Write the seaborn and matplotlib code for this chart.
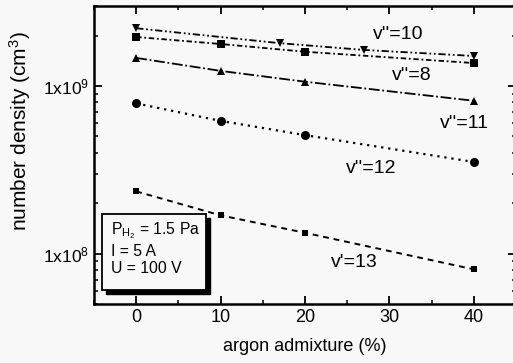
import numpy as np
import pandas as pd
import matplotlib
matplotlib.use("Agg")
import matplotlib.pyplot as plt
from matplotlib.patches import Rectangle
from matplotlib.ticker import FixedLocator, NullFormatter, FixedFormatter, MultipleLocator
import seaborn as sns

# argon admixture (%) and number densities (cm^-3) per vibrational level
x_main = [0, 10, 20, 40]
x_v10 = [0, 17, 27, 40]
n_v10 = [2.21e9, 1.80e9, 1.64e9, 1.51e9]
n_v8 = [1.96e9, 1.78e9, 1.60e9, 1.37e9]
n_v11 = [1.47e9, 1.23e9, 1.06e9, 8.16e8]
n_v12 = [7.87e8, 6.19e8, 5.09e8, 3.52e8]
n_v13 = [2.35e8, 1.69e8, 1.33e8, 8.05e7]

series_labels = ["v''=10", "v''=8", "v''=11", "v''=12", "v'=13"]
x_ticks = [0, 10, 20, 30, 40]
y_tick_labels = ["1x10$^8$", "1x10$^9$"]

sns.set_theme(style="ticks")
plt.rcParams["font.family"] = ["Liberation Sans", "DejaVu Sans"]
plt.rcParams["mathtext.fontset"] = "custom"
plt.rcParams["mathtext.rm"] = "Liberation Sans"
plt.rcParams["mathtext.it"] = "Liberation Sans"

bg = "#f8f8f8"
fig = plt.figure(figsize=(5.13, 3.63), dpi=100, facecolor=bg)
ax = fig.add_axes([94 / 513, 59 / 363, 422 / 513, 298 / 363])
ax.set_facecolor(bg)

frames = [
    (x_v10, n_v10, "v", 6, 1.3, (4, 1.5, 1, 1.5, 1, 1.5)),
    (x_main, n_v8, "s", 5.5, 1.3, (3, 1.5, 1, 1.5)),
    (x_main, n_v11, "^", 6, 1.3, (6, 1.5, 1, 1.5)),
    (x_main, n_v12, "o", 6.5, 1.6, (1, 2.2)),
    (x_main, n_v13, "s", 5, 1.4, (3, 2.5)),
]
for (xs, ys, mk, ms, lw, dash), lab in zip(frames, series_labels):
    df = pd.DataFrame({"x": xs, "y": ys})
    sns.lineplot(data=df, x="x", y="y", ax=ax, color="black", lw=lw,
                 marker=mk, markersize=ms, markeredgewidth=0,
                 dashes=False, legend=False)
    ax.lines[-1].set_dashes(dash)

ax.set_yscale("log")
ax.set_xlim(-5, 45)
ax.set_ylim(5e7, 3e9)

ax.xaxis.set_major_locator(FixedLocator(x_ticks))
ax.xaxis.set_minor_locator(MultipleLocator(5))
ax.yaxis.set_major_locator(FixedLocator([1e8, 1e9]))
ax.yaxis.set_major_formatter(FixedFormatter(y_tick_labels))
minor = [m * 10 ** e for e in (7, 8, 9) for m in range(2, 10)]
ax.yaxis.set_minor_locator(FixedLocator(minor))
ax.yaxis.set_minor_formatter(NullFormatter())

ax.tick_params(which="both", direction="in", top=True, right=True,
               colors="black")
ax.tick_params(axis="x", labelsize=13)
ax.tick_params(axis="y", labelsize=12.5)
ax.tick_params(which="major", length=6, width=1.3)
ax.tick_params(which="minor", length=3, width=1.1)
for s in ax.spines.values():
    s.set_color("black")
    s.set_linewidth(1.8)

ax.set_xlabel("argon admixture (%)", fontsize=13, color="black", labelpad=9)
ax.set_ylabel("number density (cm$^3$)", fontsize=15, color="black")
ax.yaxis.set_label_coords(-0.145, 0.58)

# level labels
label_pos = [(31.0, 2.02e9), (32.6, 1.15e9), (38.9, 6.0e8), (27.9, 3.23e8), (25.9, 8.8e7)]
for lab, (tx, ty) in zip(series_labels, label_pos):
    ax.text(tx, ty, lab, fontsize=14, ha="center", va="center", color="black")

# discharge parameters box with drop shadow
bx0, by0, bw, bh = 0.019, 0.047, 0.246, 0.255
ax.add_patch(Rectangle((bx0 + 0.009, by0 - 0.013), bw, bh, transform=ax.transAxes,
                       facecolor="black", edgecolor="black", zorder=5))
ax.add_patch(Rectangle((bx0, by0), bw, bh, transform=ax.transAxes,
                       facecolor=bg, edgecolor="black", lw=1.3, zorder=6))
ax.text(bx0 + 0.022, by0 + bh - 0.022,
        "P$_{\\mathrm{H_2}}$ = 1.5 Pa\nI = 5 A\nU = 100 V",
        transform=ax.transAxes, fontsize=11.3, va="top", ha="left",
        linespacing=1.22, color="black", zorder=7)

fig.savefig("out.png", dpi=100, facecolor=fig.get_facecolor())
